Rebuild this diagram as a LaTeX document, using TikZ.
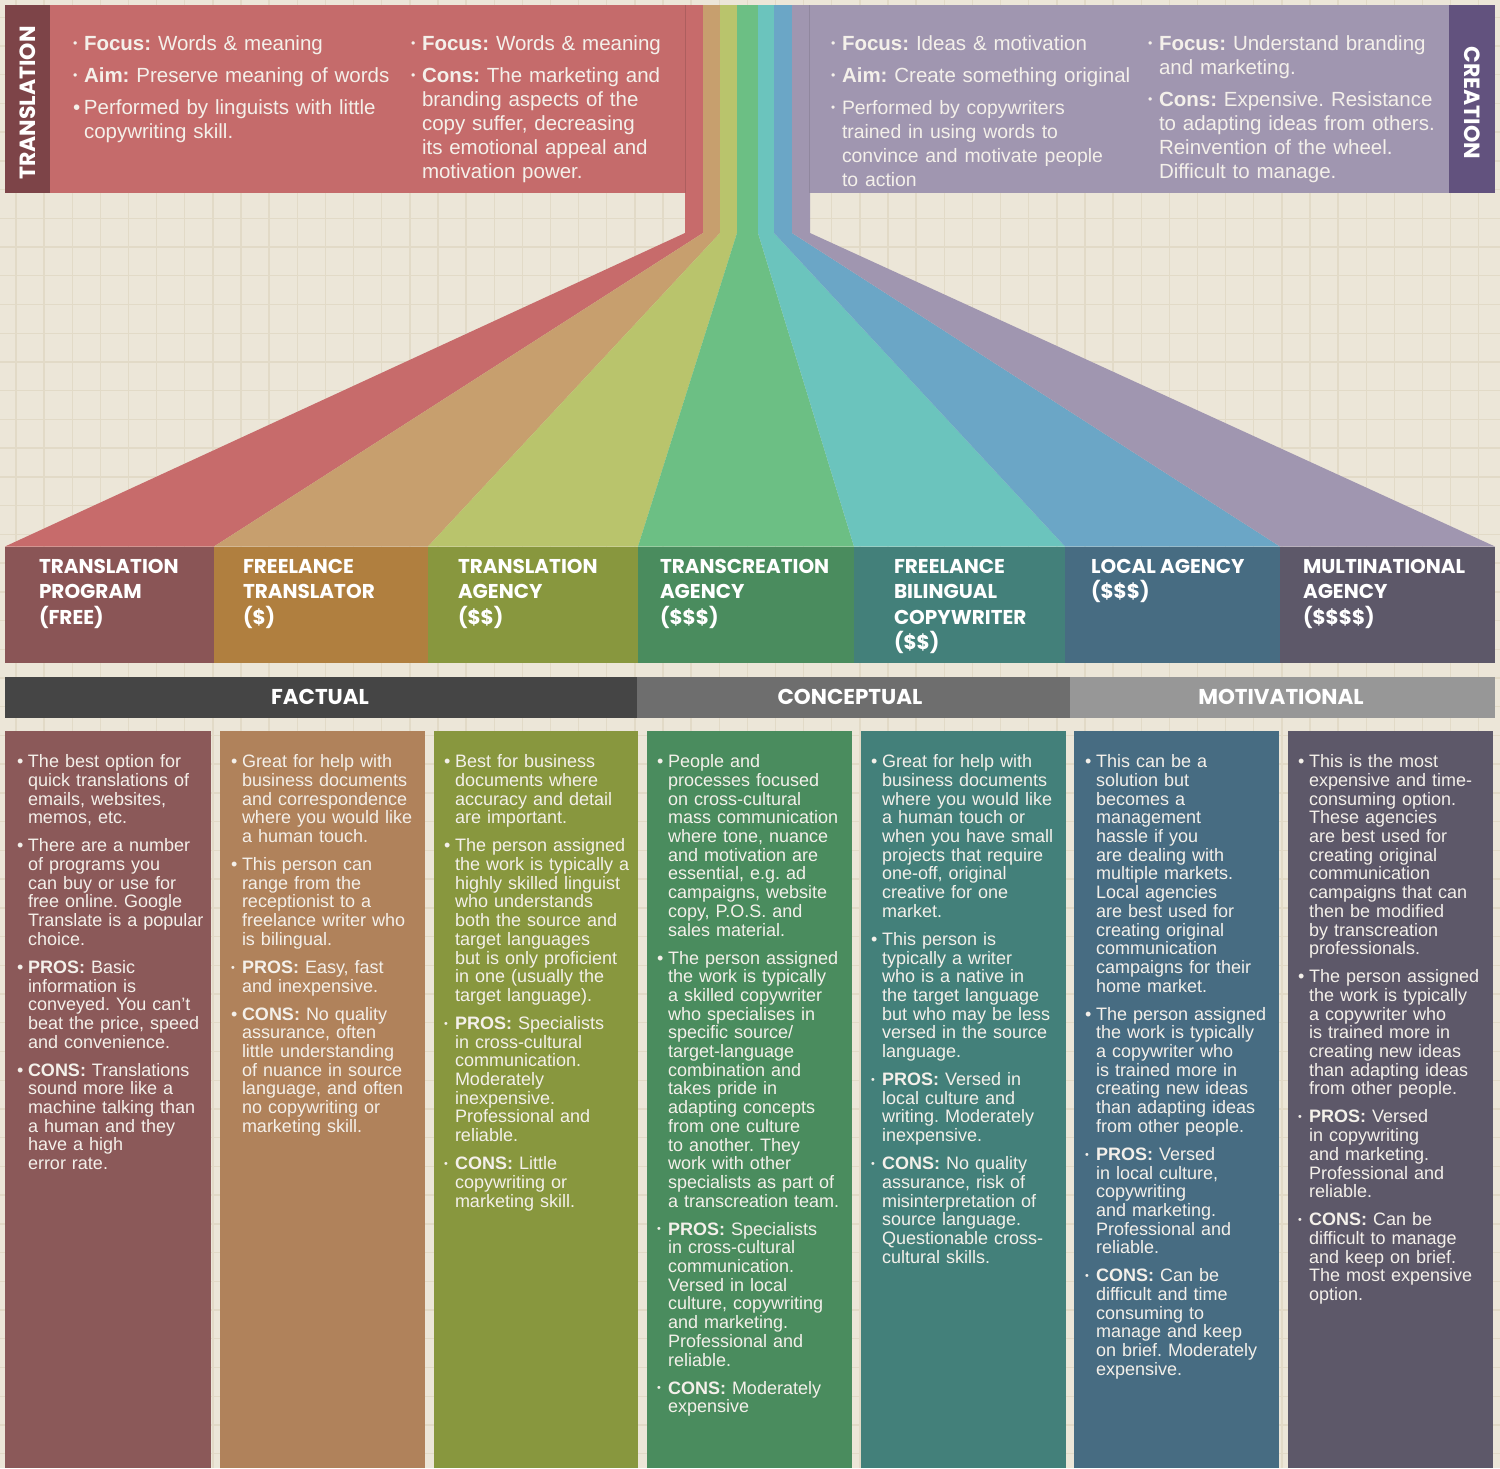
\documentclass[tikz,border=0pt]{standalone}
\usepackage{fontspec}
\usepackage{graphicx}
\setmainfont{Liberation Sans}
\newfontfamily\hfont{Poppins}
\frenchspacing
\definecolor{bg}{HTML}{ECE6D8}
\definecolor{gridc}{HTML}{E2DAC7}
\definecolor{pinkbox}{HTML}{C56B6B}
\definecolor{transl}{HTML}{7D4448}
\definecolor{creabox}{HTML}{A096B0}
\definecolor{crealbl}{HTML}{62527E}
\definecolor{fA}{HTML}{C76B6B}
\definecolor{fB}{HTML}{C79F6E}
\definecolor{fC}{HTML}{B9C46C}
\definecolor{fD}{HTML}{6CBF84}
\definecolor{fE}{HTML}{6BC4BD}
\definecolor{fF}{HTML}{6BA6C6}
\definecolor{fG}{HTML}{A096B0}
\definecolor{hA}{HTML}{8A5556}
\definecolor{hB}{HTML}{B07F3F}
\definecolor{hC}{HTML}{88973E}
\definecolor{hD}{HTML}{4A8C5E}
\definecolor{hE}{HTML}{43807A}
\definecolor{hF}{HTML}{476C82}
\definecolor{hG}{HTML}{5D5869}
\definecolor{cA}{HTML}{8B5959}
\definecolor{cB}{HTML}{B0825B}
\definecolor{catA}{HTML}{454545}
\definecolor{catB}{HTML}{6E6E6E}
\definecolor{catC}{HTML}{979797}
\definecolor{txt}{HTML}{F4F0EA}
\let\nl\newline
\newcommand\itm[2]{\par\hangindent=11pt\hangafter=1\noindent\makebox[11pt][l]{#1}#2\par}
\newcommand\bB{\textbullet}
\newcommand\bD{\raisebox{0.12em}{\scalebox{0.6}{\textbullet}}}
\newcommand\igap{\vskip 9.3pt}
\newcommand\tgap{\vskip 8pt}
\begin{document}
\begin{tikzpicture}[x=1pt,y=-1pt,
  body/.style={anchor=north west, inner sep=0pt, outer sep=0pt, text width=200pt, align=left, text=txt, font=\fontsize{18}{18.7}\selectfont},
  topbody/.style={anchor=north west, inner sep=0pt, outer sep=0pt, text width=330pt, align=left, text=txt, font=\fontsize{20.5}{24}\selectfont},
  head/.style={anchor=north west, inner sep=0pt, outer sep=0pt, align=left, text=white, font=\hfont\bfseries\fontsize{20}{25.5}\selectfont},
  cat/.style={inner sep=0pt, text=white, font=\hfont\bfseries\fontsize{21.5}{22}\selectfont},
  vlab/.style={inner sep=0pt, text=white, font=\hfont\bfseries\fontsize{22}{22}\selectfont}]
\useasboundingbox (0,0) rectangle (1500,1468);
\fill[bg] (0,0) rectangle (1500,1468);
\foreach \i in {0,...,53} \draw[gridc, line width=1.4pt] ({16+28.13*\i},0) -- ++(0,1468);
\foreach \j in {0,...,51} \draw[gridc, line width=1.4pt] (0,{17.2+28.73*\j}) -- ++(1500,0);
% fan stripes
\foreach \xa/\xb/\sa/\sb/\c in {5/214/685/703/fA, 214/428/703/720/fB, 428/638/720/737/fC, 638/854/737/758/fD, 854/1065/758/774/fE, 1065/1280/774/792/fF, 1280/1495/792/810/fG}
  \fill[\c] (\sa,5) -- (\sb,5) -- (\sb,233) -- (\xb,546.5) -- (\xa,546.5) -- (\sa,233) -- cycle;
% top boxes
\fill[pinkbox] (5,5) rectangle (685,193);
\draw[pinkbox!88!black, line width=1.5pt] (685.5,5) -- (685.5,193);
\fill[transl] (5,5) rectangle (50,193);
\fill[creabox] (810,5) rectangle (1449,193);
\draw[creabox!90!black, line width=1.5pt] (809.5,5) -- (809.5,193);
\fill[crealbl] (1449,5) rectangle (1495,193);
\node[vlab, rotate=90] (tlab) at (28,103) {TRANSLATION};
\node[vlab, rotate=-90] (clab) at (1472,103) {CREATION};
\node[topbody] (tla) at (73,26) {\itm\bD{\textbf{Focus:} Words \& meaning}\tgap
\itm\bD{\textbf{Aim:} Preserve meaning of words}\tgap
\itm\bB{Performed by linguists with little\nl copywriting skill.}};
\node[topbody] (tlb) at (411,26) {\itm\bD{\textbf{Focus:} Words \& meaning}\tgap
\itm\bD{\textbf{Cons:} The marketing and\nl branding aspects of the\nl copy suffer, decreasing\nl its emotional appeal and\nl motivation power.}};
\node[topbody] (tra) at (831,26) {\itm\bD{\textbf{Focus:} Ideas \& motivation}\tgap
\itm\bD{\textbf{Aim:} Create something original}\tgap
{\fontsize{19.4}{24}\selectfont\itm\bD{Performed by copywriters\nl trained in using words to\nl convince and motivate people\nl to action}}};
\node[topbody] (trb) at (1148,26) {\itm\bD{\textbf{Focus:} Understand branding\nl and marketing.}\tgap
\itm\bD{\textbf{Cons:} Expensive. Resistance\nl to adapting ideas from others.\nl Reinvention of the wheel.\nl Difficult to manage.}};
% header boxes
\fill[hA] (5,546.5) rectangle (214,663);
\fill[hB] (214,546.5) rectangle (428,663);
\fill[hC] (428,546.5) rectangle (638,663);
\fill[hD] (638,546.5) rectangle (854,663);
\fill[hE] (854,546.5) rectangle (1065,663);
\fill[hF] (1065,546.5) rectangle (1280,663);
\fill[hG] (1280,546.5) rectangle (1495,663);
\node[head] (h1) at (39,559) {TRANSLATION\\PROGRAM\\(FREE)};
\node[head] (h2) at (243,559) {FREELANCE\\TRANSLATOR\\(\$)};
\node[head] (h3) at (458,559) {TRANSLATION\\AGENCY\\(\$\$)};
\node[head] (h4) at (660,559) {TRANSCREATION\\AGENCY\\(\$\$\$)};
\node[head] (h5) at (894,559) {FREELANCE\\BILINGUAL\\COPYWRITER\\(\$\$)};
\node[head] (h6) at (1091,559) {LOCAL AGENCY\\(\$\$\$)};
\node[head] (h7) at (1303,559) {MULTINATIONAL\\AGENCY\\(\$\$\$\$)};
% category bar
\fill[catA] (5,677) rectangle (637,717.5);
\fill[catB] (637,677) rectangle (1070,717.5);
\fill[catC] (1070,677) rectangle (1495,717.5);
\node[cat] (k1) at (320,697) {FACTUAL};
\node[cat] (k2) at (850,697) {CONCEPTUAL};
\node[cat] (k3) at (1281,697) {MOTIVATIONAL};
% columns
\fill[cA] (5,731) rectangle (211,1468);
\fill[cB] (220,731) rectangle (425,1468);
\fill[hC] (434,731) rectangle (638,1468);
\fill[hD] (647,731) rectangle (852,1468);
\fill[hE] (861,731) rectangle (1066,1468);
\fill[hF] (1074,731) rectangle (1279,1468);
\fill[hG] (1288,731) rectangle (1493,1468);
\node[body] (b1) at (17,749) {\itm\bB{The best option for\nl quick translations of\nl emails, websites,\nl memos, etc.}\igap
\itm\bB{There are a number\nl of programs you\nl can buy or use for\nl free online. Google\nl Translate is a popular\nl choice.}\igap
\itm\bB{\textbf{PROS:} Basic\nl information is\nl conveyed. You can't\nl beat the price, speed\nl and convenience.}\igap
\itm\bB{\textbf{CONS:} Translations\nl sound more like a\nl machine talking than\nl a human and they\nl have a high\nl error rate.}};
\node[body] (b2) at (231,749) {\itm\bB{Great for help with\nl business documents\nl and correspondence\nl where you would like\nl a human touch.}\igap
\itm\bB{This person can\nl range from the\nl receptionist to a\nl freelance writer who\nl is bilingual.}\igap
\itm\bD{\textbf{PROS:} Easy, fast\nl and inexpensive.}\igap
\itm\bB{\textbf{CONS:} No quality\nl assurance, often\nl little understanding\nl of nuance in source\nl language, and often\nl no copywriting or\nl marketing skill.}};
\node[body] (b3) at (444,749) {\itm\bB{Best for business\nl documents where\nl accuracy and detail\nl are important.}\igap
\itm\bB{The person assigned\nl the work is typically a\nl highly skilled linguist\nl who understands\nl both the source and\nl target languages\nl but is only proficient\nl in one (usually the\nl target language).}\igap
\itm\bD{\textbf{PROS:} Specialists\nl in cross-cultural\nl communication.\nl Moderately\nl inexpensive.\nl Professional and\nl reliable.}\igap
\itm\bD{\textbf{CONS:} Little\nl copywriting or\nl marketing skill.}};
\node[body] (b4) at (657,749) {\itm\bB{People and\nl processes focused\nl on cross-cultural\nl mass communication\nl where tone, nuance\nl and motivation are\nl essential, e.g. ad\nl campaigns, website\nl copy, P.O.S. and\nl sales material.}\igap
\itm\bB{The person assigned\nl the work is typically\nl a skilled copywriter\nl who specialises in\nl specific source/\nl target-language\nl combination and\nl takes pride in\nl adapting concepts\nl from one culture\nl to another. They\nl work with other\nl specialists as part of\nl a transcreation team.}\igap
\itm\bD{\textbf{PROS:} Specialists\nl in cross-cultural\nl communication.\nl Versed in local\nl culture, copywriting\nl and marketing.\nl Professional and\nl reliable.}\igap
\itm\bD{\textbf{CONS:} Moderately\nl expensive}};
\node[body] (b5) at (871,749) {\itm\bB{Great for help with\nl business documents\nl where you would like\nl a human touch or\nl when you have small\nl projects that require\nl one-off, original\nl creative for one\nl market.}\igap
\itm\bB{This person is\nl typically a writer\nl who is a native in\nl the target language\nl but who may be less\nl versed in the source\nl language.}\igap
\itm\bD{\textbf{PROS:} Versed in\nl local culture and\nl writing. Moderately\nl inexpensive.}\igap
\itm\bD{\textbf{CONS:} No quality\nl assurance, risk of\nl misinterpretation of\nl source language.\nl Questionable cross-\nl cultural skills.}};
\node[body] (b6) at (1085,749) {\itm\bB{This can be a\nl solution but\nl becomes a\nl management\nl hassle if you\nl are dealing with\nl multiple markets.\nl Local agencies\nl are best used for\nl creating original\nl communication\nl campaigns for their\nl home market.}\igap
\itm\bB{The person assigned\nl the work is typically\nl a copywriter who\nl is trained more in\nl creating new ideas\nl than adapting ideas\nl from other people.}\igap
\itm\bD{\textbf{PROS:} Versed\nl in local culture,\nl copywriting\nl and marketing.\nl Professional and\nl reliable.}\igap
\itm\bD{\textbf{CONS:} Can be\nl difficult and time\nl consuming to\nl manage and keep\nl on brief. Moderately\nl expensive.}};
\node[body] (b7) at (1298,749) {\itm\bB{This is the most\nl expensive and time-\nl consuming option.\nl These agencies\nl are best used for\nl creating original\nl communication\nl campaigns that can\nl then be modified\nl by transcreation\nl professionals.}\igap
\itm\bB{The person assigned\nl the work is typically\nl a copywriter who\nl is trained more in\nl creating new ideas\nl than adapting ideas\nl from other people.}\igap
\itm\bD{\textbf{PROS:} Versed\nl in copywriting\nl and marketing.\nl Professional and\nl reliable.}\igap
\itm\bD{\textbf{CONS:} Can be\nl difficult to manage\nl and keep on brief.\nl The most expensive\nl option.}};
\end{tikzpicture}
\end{document}
